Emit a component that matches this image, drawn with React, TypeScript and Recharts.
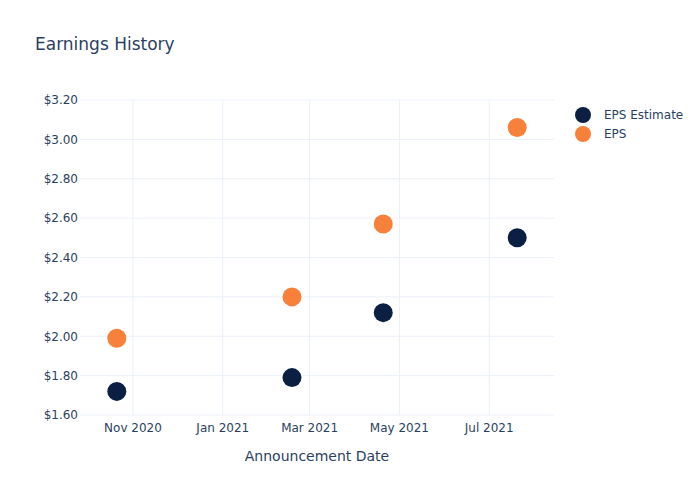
import { ScatterChart, Scatter, XAxis, YAxis, CartesianGrid } from 'recharts'

const dates = ['2020-10-21', '2021-02-17', '2021-04-20', '2021-07-20']
const epsEstimate = [1.72, 1.79, 2.12, 2.5]
const epsActual = [1.99, 2.2, 2.57, 3.06]
const xTickDates = ['2020-11-01', '2021-01-01', '2021-03-01', '2021-05-01', '2021-07-01']
const yTicks = [1.6, 1.8, 2.0, 2.2, 2.4, 2.6, 2.8, 3.0, 3.2]
const months = ['Jan', 'Feb', 'Mar', 'Apr', 'May', 'Jun', 'Jul', 'Aug', 'Sep', 'Oct', 'Nov', 'Dec']

const ts = (d: string) => Date.parse(d + 'T00:00:00Z')
const X_MIN = ts('2020-09-26')
const X_MAX = ts('2021-08-14')

const estimateData = dates.map((d, i) => ({ x: ts(d), y: epsEstimate[i] }))
const epsData = dates.map((d, i) => ({ x: ts(d), y: epsActual[i] }))

const NAVY = '#0b1f42'
const ORANGE = '#f7803a'
const TEXT = '#2a3f5f'
const FONT = '"DejaVu Sans", Verdana, sans-serif'

const Dot = (color: string) => (props: any) => (
  <circle cx={props.cx} cy={props.cy} r={9.5} fill={color} />
)

const formatDate = (v: number) => {
  const d = new Date(v)
  return `${months[d.getUTCMonth()]} ${d.getUTCFullYear()}`
}

// vertical grid only at month ticks (not at plot edges)
const monthGrid = ({ offset }: any) =>
  xTickDates.map((d) => offset.left + ((ts(d) - X_MIN) / (X_MAX - X_MIN)) * offset.width)

const LegendBox = () => (
  <div style={{ position: 'absolute', left: 574, top: 105, fontFamily: FONT, fontSize: 12, color: TEXT }}>
    {[
      { name: 'EPS Estimate', color: NAVY },
      { name: 'EPS', color: ORANGE },
    ].map((s) => (
      <div key={s.name} style={{ display: 'flex', alignItems: 'center', height: 19 }}>
        <svg width={18} height={18} style={{ marginRight: 12 }}>
          <circle cx={9} cy={9} r={8} fill={s.color} />
        </svg>
        <span>{s.name}</span>
      </div>
    ))}
  </div>
)

export default function App() {
  return (
    <div style={{ position: 'absolute', left: 0, top: 0, width: 700, height: 500, background: '#fff' }}>
      <div
        style={{
          position: 'absolute',
          left: 35,
          top: 34,
          fontFamily: FONT,
          fontSize: 17,
          color: TEXT,
        }}
      >
        Earnings History
      </div>
      <ScatterChart
        width={700}
        height={500}
        margin={{ top: 100, right: 146, bottom: 35, left: 0 }}
        style={{ fontFamily: FONT }}
      >
        <CartesianGrid stroke="#ebf0f8" strokeWidth={1} verticalCoordinatesGenerator={monthGrid} />
        <XAxis
          type="number"
          dataKey="x"
          domain={[X_MIN, X_MAX]}
          ticks={xTickDates.map(ts)}
          tickFormatter={formatDate}
          axisLine={false}
          tickLine={false}
          tickSize={0}
          tickMargin={8}
          height={50}
          tick={{ fill: TEXT, fontSize: 12 }}
          label={{ value: 'Announcement Date', position: 'insideBottom', offset: 4, fill: TEXT, fontSize: 14 }}
        />
        <YAxis
          type="number"
          dataKey="y"
          domain={[1.6, 3.2]}
          ticks={yTicks}
          tickFormatter={(v: number) => `$${v.toFixed(2)}`}
          axisLine={false}
          tickLine={false}
          tickSize={0}
          tickMargin={2}
          width={80}
          tick={{ fill: TEXT, fontSize: 12 }}
        />
        <Scatter name="EPS Estimate" data={estimateData} fill={NAVY} shape={Dot(NAVY)} isAnimationActive={false} />
        <Scatter name="EPS" data={epsData} fill={ORANGE} shape={Dot(ORANGE)} isAnimationActive={false} />
      </ScatterChart>
      <LegendBox />
    </div>
  )
}
